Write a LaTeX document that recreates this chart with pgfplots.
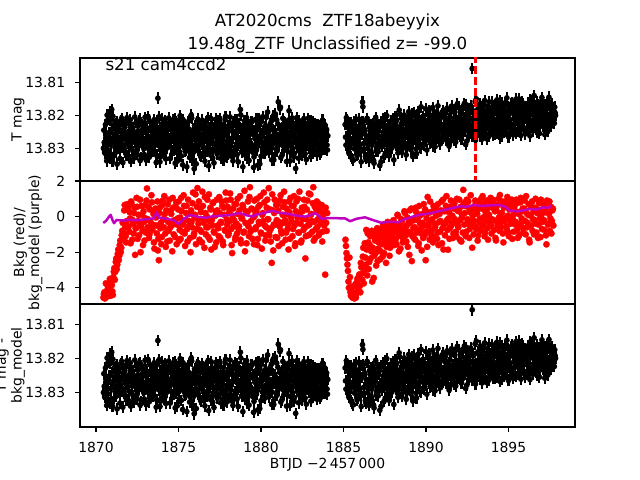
\documentclass[border=0pt]{standalone}
\usepackage{fontspec}
\setmainfont{DejaVu Sans}
\usepackage{pgfplots}
\usepackage{pgfplotstable}
\pgfplotsset{compat=1.18}
\definecolor{mplmag}{rgb}{0.75,0,0.75}

% point with its (constant) error bar, as one plot mark
\pgfdeclareplotmark{errdot}{%
  \pgfpathmoveto{\pgfqpoint{0pt}{-4.2pt}}%
  \pgfpathlineto{\pgfqpoint{0pt}{4.2pt}}%
  \pgfsetlinewidth{1.5pt}%
  \pgfusepathqstroke
  \pgfpathcircle{\pgfpointorigin}{\pgfplotmarksize}%
  \pgfusepathqfill
}

% T mag (black points with error bars), first set
\pgfplotstableread[row sep=\\]{
x y\\
1870.45 13.8300\\ 1870.50 13.8282\\ 1870.55 13.8315\\ 1870.60 13.8262\\ 1870.65 13.8338\\ 1870.70 13.8291\\ 1870.75 13.8210\\ 1870.80 13.8252\\ 1870.85 13.8188\\ 1870.90 13.8322\\
1870.95 13.8182\\ 1871.00 13.8340\\ 1871.05 13.8268\\ 1871.10 13.8228\\ 1871.15 13.8297\\ 1871.20 13.8312\\ 1871.25 13.8251\\ 1871.30 13.8219\\ 1871.35 13.8283\\ 1871.40 13.8240\\
1871.45 13.8331\\ 1871.50 13.8265\\ 1871.55 13.8209\\ 1871.60 13.8288\\ 1871.65 13.8246\\ 1871.70 13.8302\\ 1871.75 13.8236\\ 1871.80 13.8275\\ 1871.85 13.8322\\ 1871.90 13.8214\\
1871.95 13.8259\\ 1872.00 13.8296\\ 1872.05 13.8227\\ 1872.10 13.8340\\ 1872.15 13.8271\\ 1872.20 13.8238\\ 1872.25 13.8310\\ 1872.30 13.8252\\ 1872.35 13.8205\\ 1872.40 13.8284\\
1872.45 13.8263\\ 1872.50 13.8319\\ 1872.55 13.8233\\ 1872.60 13.8291\\ 1872.65 13.8212\\ 1872.70 13.8277\\ 1872.75 13.8328\\ 1872.80 13.8245\\ 1872.85 13.8269\\ 1872.90 13.8301\\
1872.95 13.8222\\ 1873.00 13.8286\\ 1873.05 13.8336\\ 1873.10 13.8249\\ 1873.15 13.8203\\ 1873.20 13.8274\\ 1873.25 13.8315\\ 1873.30 13.8237\\ 1873.35 13.8298\\ 1873.40 13.8260\\
1873.45 13.8229\\ 1873.50 13.8307\\ 1873.55 13.8256\\ 1873.60 13.8280\\ 1873.65 13.8343\\ 1873.70 13.8218\\ 1873.75 13.8148\\ 1873.80 13.8292\\ 1873.85 13.8247\\ 1873.90 13.8326\\
1873.95 13.8270\\ 1874.00 13.8211\\ 1874.05 13.8289\\ 1874.10 13.8239\\ 1874.15 13.8316\\ 1874.20 13.8262\\ 1874.25 13.8225\\ 1874.30 13.8299\\ 1874.35 13.8274\\ 1874.40 13.8208\\
1874.45 13.8285\\ 1874.50 13.8331\\ 1874.55 13.8243\\ 1874.60 13.8268\\ 1874.65 13.8214\\ 1874.70 13.8304\\ 1874.75 13.8257\\ 1874.80 13.8345\\ 1874.85 13.8279\\ 1874.90 13.8226\\
1874.95 13.8293\\ 1875.00 13.8250\\ 1875.05 13.8318\\ 1875.10 13.8201\\ 1875.15 13.8271\\ 1875.20 13.8237\\ 1875.25 13.8350\\ 1875.30 13.8283\\ 1875.35 13.8246\\ 1875.40 13.8309\\
1875.45 13.8264\\ 1875.50 13.8356\\ 1875.55 13.8221\\ 1875.60 13.8290\\ 1875.65 13.8242\\ 1875.70 13.8313\\ 1875.75 13.8273\\ 1875.80 13.8208\\ 1875.85 13.8336\\ 1875.90 13.8260\\
1875.95 13.8362\\ 1876.00 13.8233\\ 1876.05 13.8295\\ 1876.10 13.8254\\ 1876.15 13.8219\\ 1876.20 13.8305\\ 1876.25 13.8270\\ 1876.30 13.8240\\ 1876.35 13.8325\\ 1876.40 13.8281\\
1876.45 13.8215\\ 1876.50 13.8298\\ 1876.55 13.8258\\ 1876.60 13.8339\\ 1876.65 13.8235\\ 1876.70 13.8276\\ 1876.75 13.8310\\ 1876.80 13.8206\\ 1876.85 13.8287\\ 1876.90 13.8249\\
1876.95 13.8321\\ 1877.00 13.8267\\ 1877.05 13.8228\\ 1877.10 13.8302\\ 1877.15 13.8344\\ 1877.20 13.8255\\ 1877.25 13.8212\\ 1877.30 13.8284\\ 1877.35 13.8317\\ 1877.40 13.8243\\
1877.45 13.8272\\ 1877.50 13.8209\\ 1877.55 13.8330\\ 1877.60 13.8261\\ 1877.65 13.8294\\ 1877.70 13.8237\\ 1877.75 13.8315\\ 1877.80 13.8250\\ 1877.85 13.8203\\ 1877.90 13.8288\\
1877.95 13.8327\\ 1878.00 13.8244\\ 1878.05 13.8269\\ 1878.10 13.8222\\ 1878.15 13.8306\\ 1878.20 13.8279\\ 1878.25 13.8235\\ 1878.30 13.8338\\ 1878.35 13.8258\\ 1878.40 13.8213\\
1878.45 13.8297\\ 1878.50 13.8248\\ 1878.55 13.8319\\ 1878.60 13.8267\\ 1878.65 13.8226\\ 1878.70 13.8284\\ 1878.75 13.8182\\ 1878.80 13.8240\\ 1878.85 13.8308\\ 1878.90 13.8356\\
1878.95 13.8263\\ 1879.00 13.8217\\ 1879.05 13.8293\\ 1879.10 13.8252\\ 1879.15 13.8331\\ 1879.20 13.8275\\ 1879.25 13.8230\\ 1879.30 13.8301\\ 1879.35 13.8246\\ 1879.40 13.8286\\
1879.45 13.8220\\ 1879.50 13.8312\\ 1879.55 13.8358\\ 1879.60 13.8257\\ 1879.65 13.8293\\ 1879.70 13.8236\\ 1879.75 13.8273\\ 1879.80 13.8351\\ 1879.85 13.8211\\ 1879.90 13.8282\\
1879.95 13.8245\\ 1880.00 13.8324\\ 1880.05 13.8266\\ 1880.10 13.8204\\ 1880.15 13.8299\\ 1880.20 13.8253\\ 1880.25 13.8316\\ 1880.30 13.8239\\ 1880.35 13.8277\\ 1880.40 13.8190\\
1880.45 13.8260\\ 1880.50 13.8309\\ 1880.55 13.8227\\ 1880.60 13.8287\\ 1880.65 13.8335\\ 1880.70 13.8244\\ 1880.75 13.8201\\ 1880.80 13.8274\\ 1880.85 13.8318\\ 1880.90 13.8256\\
1880.95 13.8214\\ 1881.00 13.8296\\ 1881.05 13.8159\\ 1881.10 13.8268\\ 1881.15 13.8180\\ 1881.20 13.8328\\ 1881.25 13.8238\\ 1881.30 13.8282\\ 1881.35 13.8250\\ 1881.40 13.8305\\
1881.45 13.8224\\ 1881.50 13.8271\\ 1881.55 13.8340\\ 1881.60 13.8235\\ 1881.65 13.8290\\ 1881.70 13.8186\\ 1881.75 13.8259\\ 1881.80 13.8313\\ 1881.85 13.8247\\ 1881.90 13.8208\\
1881.95 13.8283\\ 1882.00 13.8326\\ 1882.05 13.8264\\ 1882.10 13.8361\\ 1882.15 13.8229\\ 1882.20 13.8297\\ 1882.25 13.8251\\ 1882.30 13.8216\\ 1882.35 13.8307\\ 1882.40 13.8270\\
1882.45 13.8241\\ 1882.50 13.8322\\ 1882.55 13.8265\\ 1882.60 13.8210\\ 1882.65 13.8288\\ 1882.70 13.8253\\ 1882.75 13.8334\\ 1882.80 13.8276\\ 1882.85 13.8231\\ 1882.90 13.8300\\
1882.95 13.8262\\ 1883.00 13.8218\\ 1883.05 13.8293\\ 1883.10 13.8248\\ 1883.15 13.8315\\ 1883.20 13.8272\\ 1883.25 13.8227\\ 1883.30 13.8286\\ 1883.35 13.8255\\ 1883.40 13.8320\\
1883.45 13.8266\\ 1883.50 13.8232\\ 1883.55 13.8299\\ 1883.60 13.8258\\ 1883.65 13.8311\\ 1883.70 13.8244\\ 1883.75 13.8281\\ 1883.80 13.8225\\ 1883.85 13.8303\\ 1883.90 13.8270\\ 1883.95 13.8249\\ 1884.00 13.8290\\ 1884.05 13.8262\\
1885.10 13.8228\\ 1885.15 13.8290\\ 1885.20 13.8215\\ 1885.25 13.8262\\ 1885.30 13.8305\\ 1885.35 13.8240\\ 1885.40 13.8281\\ 1885.45 13.8325\\ 1885.50 13.8233\\ 1885.55 13.8270\\
1885.60 13.8336\\ 1885.65 13.8251\\ 1885.70 13.8298\\ 1885.75 13.8214\\ 1885.80 13.8276\\ 1885.85 13.8318\\ 1885.90 13.8244\\ 1885.95 13.8287\\ 1886.00 13.8229\\ 1886.05 13.8309\\
1886.10 13.8256\\ 1886.15 13.8160\\ 1886.20 13.8219\\ 1886.25 13.8302\\ 1886.30 13.8247\\ 1886.35 13.8330\\ 1886.40 13.8273\\ 1886.45 13.8212\\ 1886.50 13.8291\\ 1886.55 13.8338\\
1886.60 13.8260\\ 1886.65 13.8229\\ 1886.70 13.8316\\ 1886.75 13.8282\\ 1886.80 13.8241\\ 1886.85 13.8345\\ 1886.90 13.8268\\ 1886.95 13.8206\\ 1887.00 13.8299\\ 1887.05 13.8255\\
1887.10 13.8310\\ 1887.15 13.8238\\ 1887.20 13.8352\\ 1887.25 13.8275\\ 1887.30 13.8221\\ 1887.35 13.8294\\ 1887.40 13.8252\\ 1887.45 13.8326\\ 1887.50 13.8207\\ 1887.55 13.8270\\
1887.60 13.8243\\ 1887.65 13.8311\\ 1887.70 13.8229\\ 1887.75 13.8286\\ 1887.80 13.8250\\ 1887.85 13.8303\\ 1887.90 13.8216\\ 1887.95 13.8279\\ 1888.00 13.8237\\ 1888.05 13.8335\\
1888.10 13.8262\\ 1888.15 13.8204\\ 1888.20 13.8291\\ 1888.25 13.8235\\ 1888.30 13.8314\\ 1888.35 13.8250\\ 1888.40 13.8196\\ 1888.45 13.8278\\ 1888.50 13.8226\\ 1888.55 13.8303\\
1888.60 13.8242\\ 1888.65 13.8288\\ 1888.70 13.8212\\ 1888.75 13.8267\\ 1888.80 13.8320\\ 1888.85 13.8231\\ 1888.90 13.8259\\ 1888.95 13.8189\\ 1889.00 13.8284\\ 1889.05 13.8245\\
1889.10 13.8218\\ 1889.15 13.8270\\ 1889.20 13.8325\\ 1889.25 13.8240\\ 1889.30 13.8191\\ 1889.35 13.8258\\ 1889.40 13.8302\\ 1889.45 13.8227\\ 1889.50 13.8280\\ 1889.55 13.8205\\
1889.60 13.8249\\ 1889.65 13.8296\\ 1889.70 13.8174\\ 1889.75 13.8236\\ 1889.80 13.8265\\ 1889.85 13.8212\\ 1889.90 13.8287\\ 1889.95 13.8229\\ 1890.00 13.8256\\ 1890.05 13.8305\\
1890.10 13.8198\\ 1890.15 13.8262\\ 1890.20 13.8230\\ 1890.25 13.8283\\ 1890.30 13.8209\\ 1890.35 13.8247\\ 1890.40 13.8176\\ 1890.45 13.8270\\ 1890.50 13.8222\\ 1890.55 13.8295\\
1890.60 13.8238\\ 1890.65 13.8189\\ 1890.70 13.8255\\ 1890.75 13.8214\\ 1890.80 13.8279\\ 1890.85 13.8232\\ 1890.90 13.8201\\ 1890.95 13.8266\\ 1891.00 13.8243\\ 1891.05 13.8185\\
1891.10 13.8250\\ 1891.15 13.8211\\ 1891.20 13.8274\\ 1891.25 13.8228\\ 1891.30 13.8182\\ 1891.35 13.8259\\ 1891.40 13.8293\\ 1891.45 13.8204\\ 1891.50 13.8237\\ 1891.55 13.8172\\
1891.60 13.8266\\ 1891.65 13.8219\\ 1891.70 13.8247\\ 1891.75 13.8190\\ 1891.80 13.8281\\ 1891.85 13.8226\\ 1891.90 13.8165\\ 1891.95 13.8240\\ 1892.00 13.8208\\ 1892.05 13.8262\\
1892.10 13.8196\\ 1892.15 13.8272\\ 1892.20 13.8224\\ 1892.25 13.8179\\ 1892.30 13.8245\\ 1892.35 13.8207\\ 1892.40 13.8288\\ 1892.45 13.8168\\ 1892.50 13.8232\\ 1892.55 13.8199\\
1892.60 13.8260\\ 1892.65 13.8215\\ 1892.70 13.8170\\ 1892.75 13.8241\\ 1892.80 13.8058\\ 1892.85 13.8186\\ 1892.90 13.8253\\ 1892.95 13.8220\\ 1893.00 13.8275\\ 1893.05 13.8150\\
1893.10 13.8227\\ 1893.15 13.8181\\ 1893.20 13.8249\\ 1893.25 13.8206\\ 1893.30 13.8164\\ 1893.35 13.8238\\ 1893.40 13.8272\\ 1893.45 13.8192\\ 1893.50 13.8219\\ 1893.55 13.8155\\
1893.60 13.8255\\ 1893.65 13.8203\\ 1893.70 13.8230\\ 1893.75 13.8174\\ 1893.80 13.8264\\ 1893.85 13.8212\\ 1893.90 13.8187\\ 1893.95 13.8243\\ 1894.00 13.8160\\ 1894.05 13.8221\\
1894.10 13.8196\\ 1894.15 13.8258\\ 1894.20 13.8175\\ 1894.25 13.8229\\ 1894.30 13.8153\\ 1894.35 13.8209\\ 1894.40 13.8244\\ 1894.45 13.8183\\ 1894.50 13.8268\\ 1894.55 13.8201\\
1894.60 13.8162\\ 1894.65 13.8235\\ 1894.70 13.8190\\ 1894.75 13.8251\\ 1894.80 13.8171\\ 1894.85 13.8217\\ 1894.90 13.8147\\ 1894.95 13.8226\\ 1895.00 13.8265\\ 1895.05 13.8188\\
1895.10 13.8213\\ 1895.15 13.8166\\ 1895.20 13.8240\\ 1895.25 13.8192\\ 1895.30 13.8259\\ 1895.35 13.8178\\ 1895.40 13.8222\\ 1895.45 13.8151\\ 1895.50 13.8204\\ 1895.55 13.8247\\
1895.60 13.8170\\ 1895.65 13.8232\\ 1895.70 13.8195\\ 1895.75 13.8261\\ 1895.80 13.8158\\ 1895.85 13.8215\\ 1895.90 13.8186\\ 1895.95 13.8238\\ 1896.00 13.8173\\ 1896.05 13.8209\\
1896.10 13.8189\\ 1896.15 13.8244\\ 1896.20 13.8163\\ 1896.25 13.8218\\ 1896.30 13.8262\\ 1896.35 13.8180\\ 1896.40 13.8227\\ 1896.45 13.8155\\ 1896.50 13.8200\\ 1896.55 13.8140\\
1896.60 13.8235\\ 1896.65 13.8176\\ 1896.70 13.8213\\ 1896.75 13.8250\\ 1896.80 13.8168\\ 1896.85 13.8197\\ 1896.90 13.8231\\ 1896.95 13.8159\\ 1897.00 13.8208\\ 1897.05 13.8184\\
1897.10 13.8221\\ 1897.15 13.8170\\ 1897.20 13.8258\\ 1897.25 13.8193\\ 1897.30 13.8236\\ 1897.35 13.8162\\ 1897.40 13.8210\\ 1897.45 13.8145\\ 1897.50 13.8228\\ 1897.55 13.8181\\
1897.60 13.8205\\ 1897.65 13.8166\\ 1897.70 13.8215\\ 1897.75 13.8190\\ 1897.80 13.8175\\ 1897.85 13.8200\\
}\tblack

% T mag, interleaved second set
\pgfplotstableread[row sep=\\]{
x y\\
1870.475 13.8245\\ 1870.525 13.8312\\ 1870.575 13.8228\\ 1870.625 13.8276\\ 1870.675 13.8199\\ 1870.725 13.8305\\ 1870.775 13.8262\\ 1870.825 13.8330\\ 1870.875 13.8215\\ 1870.925 13.8287\\
1870.975 13.8241\\ 1871.025 13.8203\\ 1871.075 13.8318\\ 1871.125 13.8256\\ 1871.175 13.8292\\ 1871.225 13.8226\\ 1871.275 13.8348\\ 1871.325 13.8271\\ 1871.375 13.8234\\ 1871.425 13.8300\\
1871.475 13.8278\\ 1871.525 13.8217\\ 1871.575 13.8296\\ 1871.625 13.8343\\ 1871.675 13.8259\\ 1871.725 13.8230\\ 1871.775 13.8311\\ 1871.825 13.8266\\ 1871.875 13.8207\\ 1871.925 13.8285\\
1871.975 13.8249\\ 1872.025 13.8325\\ 1872.075 13.8213\\ 1872.125 13.8270\\ 1872.175 13.8302\\ 1872.225 13.8237\\ 1872.275 13.8258\\ 1872.325 13.8329\\ 1872.375 13.8281\\ 1872.425 13.8222\\
1872.475 13.8307\\ 1872.525 13.8248\\ 1872.575 13.8284\\ 1872.625 13.8216\\ 1872.675 13.8337\\ 1872.725 13.8261\\ 1872.775 13.8229\\ 1872.825 13.8293\\ 1872.875 13.8252\\ 1872.925 13.8319\\
1872.975 13.8206\\ 1873.025 13.8273\\ 1873.075 13.8240\\ 1873.125 13.8299\\ 1873.175 13.8265\\ 1873.225 13.8327\\ 1873.275 13.8219\\ 1873.325 13.8286\\ 1873.375 13.8243\\ 1873.425 13.8310\\
1873.475 13.8268\\ 1873.525 13.8213\\ 1873.575 13.8290\\ 1873.625 13.8236\\ 1873.675 13.8321\\ 1873.725 13.8255\\ 1873.775 13.8279\\ 1873.825 13.8204\\ 1873.875 13.8341\\ 1873.925 13.8263\\
1873.975 13.8227\\ 1874.025 13.8304\\ 1874.075 13.8248\\ 1874.125 13.8283\\ 1874.175 13.8217\\ 1874.225 13.8332\\ 1874.275 13.8257\\ 1874.325 13.8294\\ 1874.375 13.8238\\ 1874.425 13.8272\\
1874.475 13.8223\\ 1874.525 13.8296\\ 1874.575 13.8259\\ 1874.625 13.8315\\ 1874.675 13.8235\\ 1874.725 13.8278\\ 1874.775 13.8209\\ 1874.825 13.8301\\ 1874.875 13.8252\\ 1874.925 13.8339\\
1874.975 13.8266\\ 1875.025 13.8220\\ 1875.075 13.8288\\ 1875.125 13.8244\\ 1875.175 13.8323\\ 1875.225 13.8260\\ 1875.275 13.8213\\ 1875.325 13.8297\\ 1875.375 13.8274\\ 1875.425 13.8232\\
1875.475 13.8306\\ 1875.525 13.8242\\ 1875.575 13.8285\\ 1875.625 13.8217\\ 1875.675 13.8328\\ 1875.725 13.8263\\ 1875.775 13.8199\\ 1875.825 13.8291\\ 1875.875 13.8249\\ 1875.925 13.8311\\
1875.975 13.8231\\ 1876.025 13.8276\\ 1876.075 13.8347\\ 1876.125 13.8254\\ 1876.175 13.8212\\ 1876.225 13.8289\\ 1876.275 13.8236\\ 1876.325 13.8320\\ 1876.375 13.8268\\ 1876.425 13.8226\\
1876.475 13.8292\\ 1876.525 13.8245\\ 1876.575 13.8318\\ 1876.625 13.8270\\ 1876.675 13.8221\\ 1876.725 13.8301\\ 1876.775 13.8257\\ 1876.825 13.8353\\ 1876.875 13.8239\\ 1876.925 13.8284\\
1876.975 13.8210\\ 1877.025 13.8275\\ 1877.075 13.8329\\ 1877.125 13.8250\\ 1877.175 13.8296\\ 1877.225 13.8231\\ 1877.275 13.8265\\ 1877.325 13.8312\\ 1877.375 13.8218\\ 1877.425 13.8280\\
1877.475 13.8251\\ 1877.525 13.8303\\ 1877.575 13.8226\\ 1877.625 13.8287\\ 1877.675 13.8242\\ 1877.725 13.8336\\ 1877.775 13.8263\\ 1877.825 13.8214\\ 1877.875 13.8298\\ 1877.925 13.8255\\
1877.975 13.8318\\ 1878.025 13.8232\\ 1878.075 13.8279\\ 1878.125 13.8205\\ 1878.175 13.8292\\ 1878.225 13.8247\\ 1878.275 13.8326\\ 1878.325 13.8268\\ 1878.375 13.8221\\ 1878.425 13.8306\\
1878.475 13.8262\\ 1878.525 13.8215\\ 1878.575 13.8289\\ 1878.625 13.8341\\ 1878.675 13.8238\\ 1878.725 13.8276\\ 1878.775 13.8199\\ 1878.825 13.8311\\ 1878.875 13.8254\\ 1878.925 13.8283\\
1878.975 13.8229\\ 1879.025 13.8320\\ 1879.075 13.8266\\ 1879.125 13.8207\\ 1879.175 13.8295\\ 1879.225 13.8243\\ 1879.275 13.8337\\ 1879.325 13.8258\\ 1879.375 13.8287\\ 1879.425 13.8219\\
1879.475 13.8294\\ 1879.525 13.8248\\ 1879.575 13.8326\\ 1879.625 13.8270\\ 1879.675 13.8212\\ 1879.725 13.8305\\ 1879.775 13.8240\\ 1879.825 13.8286\\ 1879.875 13.8228\\ 1879.925 13.8347\\
1879.975 13.8261\\ 1880.025 13.8219\\ 1880.075 13.8298\\ 1880.125 13.8253\\ 1880.175 13.8315\\ 1880.225 13.8234\\ 1880.275 13.8279\\ 1880.325 13.8206\\ 1880.375 13.8290\\ 1880.425 13.8245\\
1880.475 13.8313\\ 1880.525 13.8236\\ 1880.575 13.8281\\ 1880.625 13.8218\\ 1880.675 13.8299\\ 1880.725 13.8262\\ 1880.775 13.8335\\ 1880.825 13.8247\\ 1880.875 13.8196\\ 1880.925 13.8272\\
1880.975 13.8308\\ 1881.025 13.8226\\ 1881.075 13.8289\\ 1881.125 13.8241\\ 1881.175 13.8175\\ 1881.225 13.8264\\ 1881.275 13.8321\\ 1881.325 13.8209\\ 1881.375 13.8293\\ 1881.425 13.8257\\
1881.475 13.8285\\ 1881.525 13.8232\\ 1881.575 13.8306\\ 1881.625 13.8261\\ 1881.675 13.8214\\ 1881.725 13.8279\\ 1881.775 13.8338\\ 1881.825 13.8244\\ 1881.875 13.8297\\ 1881.925 13.8223\\
1881.975 13.8268\\ 1882.025 13.8315\\ 1882.075 13.8239\\ 1882.125 13.8284\\ 1882.175 13.8207\\ 1882.225 13.8273\\ 1882.275 13.8330\\ 1882.325 13.8252\\ 1882.375 13.8291\\ 1882.425 13.8236\\
1882.475 13.8277\\ 1882.525 13.8219\\ 1882.575 13.8303\\ 1882.625 13.8248\\ 1882.675 13.8316\\ 1882.725 13.8235\\ 1882.775 13.8289\\ 1882.825 13.8260\\ 1882.875 13.8209\\ 1882.925 13.8296\\
1882.975 13.8242\\ 1883.025 13.8325\\ 1883.075 13.8267\\ 1883.125 13.8221\\ 1883.175 13.8284\\ 1883.225 13.8253\\ 1883.275 13.8309\\ 1883.325 13.8238\\ 1883.375 13.8274\\ 1883.425 13.8230\\
1883.475 13.8295\\ 1883.525 13.8251\\ 1883.575 13.8318\\ 1883.625 13.8237\\ 1883.675 13.8280\\ 1883.725 13.8215\\ 1883.775 13.8302\\ 1883.825 13.8260\\ 1883.875 13.8229\\ 1883.925 13.8286\\ 1883.975 13.8243\\ 1884.025 13.8305\\
1885.125 13.8266\\ 1885.175 13.8207\\ 1885.225 13.8294\\ 1885.275 13.8238\\ 1885.325 13.8314\\ 1885.375 13.8252\\ 1885.425 13.8223\\ 1885.475 13.8287\\ 1885.525 13.8331\\ 1885.575 13.8245\\
1885.625 13.8219\\ 1885.675 13.8302\\ 1885.725 13.8264\\ 1885.775 13.8236\\ 1885.825 13.8322\\ 1885.875 13.8275\\ 1885.925 13.8211\\ 1885.975 13.8293\\ 1886.025 13.8257\\ 1886.075 13.8341\\
1886.125 13.8221\\ 1886.175 13.8174\\ 1886.225 13.8285\\ 1886.275 13.8243\\ 1886.325 13.8324\\ 1886.375 13.8262\\ 1886.425 13.8209\\ 1886.475 13.8301\\ 1886.525 13.8271\\ 1886.575 13.8236\\
1886.625 13.8319\\ 1886.675 13.8252\\ 1886.725 13.8290\\ 1886.775 13.8225\\ 1886.825 13.8337\\ 1886.875 13.8263\\ 1886.925 13.8242\\ 1886.975 13.8308\\ 1887.025 13.8217\\ 1887.075 13.8283\\
1887.125 13.8247\\ 1887.175 13.8296\\ 1887.225 13.8228\\ 1887.275 13.8341\\ 1887.325 13.8265\\ 1887.375 13.8212\\ 1887.425 13.8284\\ 1887.475 13.8239\\ 1887.525 13.8317\\ 1887.575 13.8258\\
1887.625 13.8201\\ 1887.675 13.8292\\ 1887.725 13.8246\\ 1887.775 13.8323\\ 1887.825 13.8268\\ 1887.875 13.8222\\ 1887.925 13.8299\\ 1887.975 13.8255\\ 1888.025 13.8210\\ 1888.075 13.8281\\
1888.125 13.8232\\ 1888.175 13.8279\\ 1888.225 13.8215\\ 1888.275 13.8301\\ 1888.325 13.8256\\ 1888.375 13.8184\\ 1888.425 13.8269\\ 1888.475 13.8240\\ 1888.525 13.8312\\ 1888.575 13.8221\\
1888.625 13.8263\\ 1888.675 13.8199\\ 1888.725 13.8287\\ 1888.775 13.8248\\ 1888.825 13.8226\\ 1888.875 13.8295\\ 1888.925 13.8207\\ 1888.975 13.8272\\ 1889.025 13.8238\\ 1889.075 13.8304\\
1889.125 13.8251\\ 1889.175 13.8196\\ 1889.225 13.8283\\ 1889.275 13.8229\\ 1889.325 13.8268\\ 1889.375 13.8214\\ 1889.425 13.8316\\ 1889.475 13.8244\\ 1889.525 13.8188\\ 1889.575 13.8274\\
1889.625 13.8232\\ 1889.675 13.8298\\ 1889.725 13.8219\\ 1889.775 13.8258\\ 1889.825 13.8203\\ 1889.875 13.8289\\ 1889.925 13.8241\\ 1889.975 13.8180\\ 1890.025 13.8266\\ 1890.075 13.8225\\
1890.125 13.8247\\ 1890.175 13.8186\\ 1890.225 13.8271\\ 1890.275 13.8213\\ 1890.325 13.8256\\ 1890.375 13.8234\\ 1890.425 13.8292\\ 1890.475 13.8197\\ 1890.525 13.8262\\ 1890.575 13.8218\\
1890.625 13.8279\\ 1890.675 13.8240\\ 1890.725 13.8171\\ 1890.775 13.8252\\ 1890.825 13.8208\\ 1890.875 13.8286\\ 1890.925 13.8227\\ 1890.975 13.8194\\ 1891.025 13.8269\\ 1891.075 13.8236\\
1891.125 13.8203\\ 1891.175 13.8263\\ 1891.225 13.8229\\ 1891.275 13.8178\\ 1891.325 13.8248\\ 1891.375 13.8212\\ 1891.425 13.8285\\ 1891.475 13.8236\\ 1891.525 13.8190\\ 1891.575 13.8257\\
1891.625 13.8221\\ 1891.675 13.8276\\ 1891.725 13.8183\\ 1891.775 13.8244\\ 1891.825 13.8206\\ 1891.875 13.8268\\ 1891.925 13.8230\\ 1891.975 13.8175\\ 1892.025 13.8252\\ 1892.075 13.8214\\
1892.125 13.8238\\ 1892.175 13.8183\\ 1892.225 13.8259\\ 1892.275 13.8212\\ 1892.325 13.8164\\ 1892.375 13.8247\\ 1892.425 13.8201\\ 1892.475 13.8278\\ 1892.525 13.8226\\ 1892.575 13.8189\\
1892.625 13.8251\\ 1892.675 13.8208\\ 1892.725 13.8173\\ 1892.775 13.8264\\ 1892.825 13.8229\\ 1892.875 13.8193\\ 1892.925 13.8240\\ 1892.975 13.8158\\ 1893.025 13.8216\\ 1893.075 13.8262\\
1893.125 13.8185\\ 1893.175 13.8241\\ 1893.225 13.8210\\ 1893.275 13.8262\\ 1893.325 13.8176\\ 1893.375 13.8228\\ 1893.425 13.8195\\ 1893.475 13.8253\\ 1893.525 13.8168\\ 1893.575 13.8233\\
1893.625 13.8207\\ 1893.675 13.8271\\ 1893.725 13.8184\\ 1893.775 13.8222\\ 1893.825 13.8159\\ 1893.875 13.8246\\ 1893.925 13.8198\\ 1893.975 13.8237\\ 1894.025 13.8178\\ 1894.075 13.8259\\
1894.125 13.8214\\ 1894.175 13.8167\\ 1894.225 13.8240\\ 1894.275 13.8191\\ 1894.325 13.8255\\ 1894.375 13.8177\\ 1894.425 13.8222\\ 1894.475 13.8156\\ 1894.525 13.8233\\ 1894.575 13.8204\\
1894.625 13.8262\\ 1894.675 13.8181\\ 1894.725 13.8219\\ 1894.775 13.8164\\ 1894.825 13.8247\\ 1894.875 13.8198\\ 1894.925 13.8236\\ 1894.975 13.8173\\ 1895.025 13.8211\\ 1895.075 13.8253\\
1895.125 13.8182\\ 1895.175 13.8229\\ 1895.225 13.8161\\ 1895.275 13.8244\\ 1895.325 13.8197\\ 1895.375 13.8212\\ 1895.425 13.8168\\ 1895.475 13.8253\\ 1895.525 13.8186\\ 1895.575 13.8225\\
1895.625 13.8150\\ 1895.675 13.8207\\ 1895.725 13.8246\\ 1895.775 13.8179\\ 1895.825 13.8218\\ 1895.875 13.8164\\ 1895.925 13.8239\\ 1895.975 13.8193\\ 1896.025 13.8256\\ 1896.075 13.8175\\
1896.125 13.8219\\ 1896.175 13.8172\\ 1896.225 13.8236\\ 1896.275 13.8194\\ 1896.325 13.8152\\ 1896.375 13.8229\\ 1896.425 13.8183\\ 1896.475 13.8247\\ 1896.525 13.8166\\ 1896.575 13.8211\\
1896.625 13.8188\\ 1896.675 13.8241\\ 1896.725 13.8160\\ 1896.775 13.8222\\ 1896.825 13.8198\\ 1896.875 13.8255\\ 1896.925 13.8174\\ 1896.975 13.8216\\ 1897.025 13.8146\\ 1897.075 13.8233\\
1897.125 13.8191\\ 1897.175 13.8239\\ 1897.225 13.8167\\ 1897.275 13.8214\\ 1897.325 13.8180\\ 1897.375 13.8249\\ 1897.425 13.8158\\ 1897.475 13.8226\\ 1897.525 13.8196\\ 1897.575 13.8233\\
1897.625 13.8171\\ 1897.675 13.8209\\ 1897.725 13.8185\\ 1897.775 13.8224\\ 1897.825 13.8192\\
}\tblackb

% Bkg (red dots), first set
\pgfplotstableread[row sep=\\]{
x y\\
1870.45 -4.55\\ 1870.51 -4.25\\ 1870.57 -4.50\\ 1870.63 -4.40\\ 1870.69 -3.85\\ 1870.75 -4.30\\ 1870.81 -3.95\\ 1870.87 -4.45\\ 1870.93 -3.60\\ 1870.99 -4.20\\
1871.05 -3.40\\ 1871.11 -2.90\\ 1871.17 -3.10\\ 1871.23 -2.35\\ 1871.29 -2.70\\ 1871.35 -1.85\\ 1871.41 -2.20\\ 1871.47 -1.35\\ 1871.53 -1.75\\ 1871.59 -0.80\\
1871.65 -1.20\\ 1871.71 0.35\\ 1871.77 -0.60\\ 1871.83 -1.45\\ 1871.89 0.70\\
1871.95 0.45\\ 1872.01 -0.85\\ 1872.07 -0.10\\ 1872.13 0.85\\ 1872.19 -1.30\\ 1872.25 -0.40\\ 1872.31 0.20\\ 1872.37 -2.15\\ 1872.43 -0.65\\ 1872.49 0.55\\
1872.55 -0.25\\ 1872.61 -1.05\\ 1872.67 0.95\\ 1872.73 -0.55\\ 1872.79 0.10\\ 1872.85 -1.60\\ 1872.91 -0.30\\ 1872.97 0.65\\ 1873.03 -0.90\\ 1873.09 1.58\\
1873.15 -0.15\\ 1873.21 -1.20\\ 1873.27 0.40\\ 1873.33 -0.70\\ 1873.39 0.80\\ 1873.45 -0.45\\ 1873.51 -1.45\\ 1873.57 0.25\\ 1873.63 -0.05\\ 1873.69 -0.95\\
1873.75 -1.90\\ 1873.81 -2.45\\ 1873.87 0.50\\ 1873.93 -0.35\\ 1873.99 -1.15\\ 1874.05 0.90\\ 1874.11 -0.60\\ 1874.17 0.15\\ 1874.23 -1.70\\ 1874.29 -0.20\\
1874.35 0.70\\ 1874.41 -0.80\\ 1874.47 -1.35\\ 1874.53 0.35\\ 1874.59 -0.50\\ 1874.65 1.05\\ 1874.71 -1.00\\ 1874.77 -0.25\\ 1874.83 0.55\\ 1874.89 -1.55\\
1874.95 -0.10\\ 1875.01 0.85\\ 1875.07 -0.75\\ 1875.13 -1.25\\ 1875.19 0.30\\ 1875.25 -0.45\\ 1875.31 1.20\\ 1875.37 -0.95\\ 1875.43 -0.20\\ 1875.49 0.60\\
1875.55 -1.40\\ 1875.61 -0.55\\ 1875.67 0.15\\ 1875.73 -2.00\\ 1875.79 -0.30\\ 1875.85 0.75\\ 1875.91 -1.10\\ 1875.97 -0.05\\ 1876.03 1.25\\ 1876.09 -0.70\\
1876.15 1.60\\ 1876.21 -0.40\\ 1876.27 -1.30\\ 1876.33 0.45\\ 1876.39 -0.85\\ 1876.45 1.40\\ 1876.51 -0.15\\ 1876.57 -1.75\\ 1876.63 0.20\\ 1876.69 -0.60\\
1876.75 0.95\\ 1876.81 -1.15\\ 1876.87 -0.25\\ 1876.93 0.50\\ 1876.99 -1.85\\ 1877.05 -0.50\\ 1877.11 0.80\\ 1877.17 -0.90\\ 1877.23 0.05\\ 1877.29 -1.45\\
1877.35 0.35\\ 1877.41 -0.65\\ 1877.47 1.10\\ 1877.53 -1.20\\ 1877.59 -0.35\\ 1877.65 0.60\\ 1877.71 -1.60\\ 1877.77 0.10\\ 1877.83 -0.80\\ 1877.89 0.90\\
1877.95 -0.45\\ 1878.01 -1.05\\ 1878.07 0.25\\ 1878.13 1.30\\ 1878.19 -0.70\\ 1878.25 -2.05\\ 1878.31 0.45\\ 1878.37 -0.20\\ 1878.43 -1.30\\ 1878.49 0.70\\
1878.55 -0.95\\ 1878.61 0.15\\ 1878.67 -0.55\\ 1878.73 1.15\\ 1878.79 -1.50\\ 1878.85 -0.10\\ 1878.91 0.55\\ 1878.97 -0.85\\ 1879.03 -1.95\\ 1879.09 0.30\\
1879.15 -0.40\\ 1879.21 0.85\\ 1879.27 -1.10\\ 1879.33 1.65\\ 1879.39 -0.25\\ 1879.45 -0.75\\ 1879.51 0.40\\ 1879.57 -1.55\\ 1879.63 0.05\\ 1879.69 -0.60\\
1879.75 1.00\\ 1879.81 -1.25\\ 1879.87 -0.30\\ 1879.93 0.65\\ 1879.99 -0.90\\ 1880.05 -1.80\\ 1880.11 0.20\\ 1880.17 1.35\\ 1880.23 -0.50\\ 1880.29 -1.05\\
1880.35 0.50\\ 1880.41 -0.15\\ 1880.47 1.60\\ 1880.53 -0.80\\ 1880.59 -1.40\\ 1880.65 -2.60\\ 1880.71 0.35\\ 1880.77 -0.45\\ 1880.83 0.95\\ 1880.89 -1.15\\
1880.95 -0.20\\ 1881.01 0.70\\ 1881.07 -1.65\\ 1881.13 -0.55\\ 1881.19 1.20\\ 1881.25 -0.95\\ 1881.31 0.10\\ 1881.37 -0.35\\ 1881.43 0.80\\ 1881.49 -1.30\\
1881.55 0.45\\ 1881.61 -0.70\\ 1881.67 -1.85\\ 1881.73 0.25\\ 1881.79 1.05\\ 1881.85 -0.25\\ 1881.91 -1.10\\ 1881.97 0.60\\ 1882.03 -0.50\\ 1882.09 -1.50\\
1882.15 0.85\\ 1882.21 -0.05\\ 1882.27 -0.90\\ 1882.33 1.40\\ 1882.39 -0.40\\ 1882.45 -1.35\\ 1882.51 0.30\\ 1882.57 -0.75\\ 1882.63 0.55\\ 1882.69 -2.35\\
1882.75 -0.15\\ 1882.81 0.90\\ 1882.87 -1.05\\ 1882.93 -0.45\\ 1882.99 1.25\\ 1883.05 0.15\\ 1883.11 -0.85\\ 1883.17 1.65\\ 1883.23 -0.30\\ 1883.29 -1.20\\
1883.35 0.40\\ 1883.41 -0.60\\ 1883.47 0.75\\ 1883.53 -0.95\\ 1883.59 -0.20\\ 1883.65 0.55\\ 1883.71 -1.40\\ 1883.77 0.10\\ 1883.83 -0.50\\ 1883.89 -3.26\\
1883.95 -0.35\\ 1884.01 0.20\\
1885.12 -1.30\\ 1885.18 -2.05\\ 1885.24 -2.70\\ 1885.30 -3.65\\ 1885.36 -2.30\\ 1885.42 -4.25\\ 1885.48 -3.95\\ 1885.54 -4.55\\ 1885.60 -4.40\\ 1885.66 -4.60\\
1885.72 -3.80\\ 1885.78 -4.35\\ 1885.84 -3.50\\ 1885.90 -4.15\\ 1885.96 -3.25\\ 1886.02 -4.25\\ 1886.08 -2.85\\ 1886.14 -3.55\\ 1886.20 -1.75\\ 1886.26 -3.00\\
1886.32 -2.30\\ 1886.38 -0.75\\ 1886.44 -3.30\\ 1886.50 -1.45\\ 1886.56 -2.55\\ 1886.62 -1.10\\ 1886.68 -1.95\\ 1886.74 -3.65\\ 1886.80 -0.90\\ 1886.86 -2.20\\
1886.92 -1.35\\ 1886.98 -2.75\\ 1887.04 -0.65\\ 1887.10 -1.80\\ 1887.16 -1.20\\ 1887.22 -2.40\\ 1887.28 -0.85\\ 1887.34 -1.55\\ 1887.40 -0.45\\ 1887.46 -2.05\\
1887.52 -1.00\\ 1887.58 -2.60\\ 1887.64 -0.55\\ 1887.70 -1.40\\ 1887.76 -0.90\\ 1887.82 -1.75\\ 1887.88 -0.35\\ 1887.94 -1.15\\ 1888.00 -0.70\\ 1888.06 -1.60\\
1888.12 -0.40\\ 1888.18 -1.25\\ 1888.24 -0.85\\ 1888.30 0.05\\ 1888.36 -1.95\\ 1888.42 -0.60\\ 1888.48 -1.10\\ 1888.54 -0.25\\ 1888.60 -1.45\\ 1888.66 -0.75\\
1888.72 0.20\\ 1888.78 -1.05\\ 1888.84 -0.50\\ 1888.90 -1.70\\ 1888.96 -0.30\\ 1889.02 0.35\\ 1889.08 -0.95\\ 1889.14 -2.50\\ 1889.20 -0.15\\ 1889.26 -1.20\\
1889.32 -0.60\\ 1889.38 0.50\\ 1889.44 -0.90\\ 1889.50 -0.20\\ 1889.56 -1.50\\ 1889.62 0.05\\ 1889.68 -0.70\\ 1889.74 -1.90\\ 1889.80 -0.35\\ 1889.86 0.70\\
1889.92 -1.05\\ 1889.98 -2.45\\ 1890.04 -0.10\\ 1890.10 1.10\\ 1890.16 -0.55\\ 1890.22 -1.30\\ 1890.28 0.25\\ 1890.34 -0.80\\ 1890.40 -0.30\\ 1890.46 0.60\\
1890.52 -1.15\\ 1890.58 -0.45\\ 1890.64 0.40\\ 1890.70 -0.90\\ 1890.76 -1.60\\ 1890.82 0.15\\ 1890.88 -0.25\\ 1890.94 0.85\\ 1891.00 -0.65\\ 1891.06 -1.85\\
1891.12 0.30\\ 1891.18 -0.40\\ 1891.24 1.15\\ 1891.30 -0.75\\ 1891.36 -0.10\\ 1891.42 -1.25\\ 1891.48 0.55\\ 1891.54 -0.50\\ 1891.60 0.05\\ 1891.66 -0.95\\
1891.72 0.75\\ 1891.78 -0.30\\ 1891.84 -1.10\\ 1891.90 0.35\\ 1891.96 -0.60\\ 1892.02 0.95\\ 1892.08 -0.20\\ 1892.14 -1.40\\ 1892.20 0.10\\ 1892.26 1.50\\
1892.32 -0.45\\ 1892.38 0.60\\ 1892.44 -0.85\\ 1892.50 -0.15\\ 1892.56 0.85\\ 1892.62 -1.20\\ 1892.68 0.25\\ 1892.74 -0.55\\ 1892.80 -1.75\\ 1892.86 0.45\\
1892.92 -0.25\\ 1892.98 0.90\\ 1893.04 -0.70\\ 1893.10 0.15\\ 1893.16 -1.05\\ 1893.22 0.55\\ 1893.28 -0.35\\ 1893.34 1.00\\ 1893.40 -0.60\\ 1893.46 -0.05\\
1893.52 0.70\\ 1893.58 -0.90\\ 1893.64 -0.20\\ 1893.70 0.40\\ 1893.76 -1.30\\ 1893.82 0.10\\ 1893.88 0.80\\ 1893.94 -0.50\\ 1894.00 -0.15\\ 1894.06 0.95\\
1894.12 -0.75\\ 1894.18 0.30\\ 1894.24 -1.34\\ 1894.30 -0.30\\ 1894.36 0.65\\ 1894.42 -0.05\\ 1894.48 1.21\\ 1894.54 -0.60\\ 1894.60 0.20\\ 1894.66 -0.95\\
1894.72 0.50\\ 1894.78 -0.25\\ 1894.84 0.85\\ 1894.90 -0.70\\ 1894.96 0.05\\ 1895.02 -1.10\\ 1895.08 0.60\\ 1895.14 -0.40\\ 1895.20 0.95\\ 1895.26 -0.15\\
1895.32 -0.85\\ 1895.38 0.35\\ 1895.44 -0.30\\ 1895.50 0.75\\ 1895.56 -1.20\\ 1895.62 0.15\\ 1895.68 -0.55\\ 1895.74 1.05\\ 1895.80 -0.10\\ 1895.86 0.45\\
1895.92 -0.65\\ 1895.98 0.90\\ 1896.04 -1.00\\ 1896.10 0.20\\ 1896.16 -0.35\\ 1896.22 0.70\\ 1896.28 -1.45\\ 1896.34 0.05\\ 1896.40 0.55\\ 1896.46 -0.80\\
1896.52 0.30\\ 1896.58 -0.20\\ 1896.64 1.00\\ 1896.70 -0.90\\ 1896.76 0.40\\ 1896.82 -0.45\\ 1896.88 0.80\\ 1896.94 -1.15\\ 1897.00 0.10\\ 1897.06 -0.30\\
1897.12 0.65\\ 1897.18 -0.75\\ 1897.24 0.25\\ 1897.30 -1.56\\ 1897.36 0.50\\ 1897.42 -0.40\\ 1897.48 0.85\\ 1897.54 -0.10\\ 1897.60 -0.95\\ 1897.66 0.35\\
1897.72 -0.50\\
}\tred

% Bkg (red dots), interleaved second set
\pgfplotstableread[row sep=\\]{
x y\\
1870.48 -4.35\\ 1870.54 -4.60\\ 1870.60 -3.75\\ 1870.66 -4.50\\ 1870.72 -4.05\\ 1870.78 -4.45\\ 1870.84 -3.50\\ 1870.90 -4.25\\ 1870.96 -3.85\\ 1871.02 -4.40\\
1871.08 -3.10\\ 1871.14 -3.55\\ 1871.20 -2.55\\ 1871.26 -2.95\\ 1871.32 -2.10\\ 1871.38 -2.45\\ 1871.44 -1.60\\ 1871.50 -2.00\\ 1871.56 -1.05\\ 1871.62 -0.35\\
1871.68 -0.95\\ 1871.74 0.65\\ 1871.80 -1.10\\ 1871.86 -0.25\\ 1871.92 0.40\\
1871.98 -0.55\\ 1872.04 0.25\\ 1872.10 -1.50\\ 1872.16 0.70\\ 1872.22 -0.20\\ 1872.28 -0.95\\ 1872.34 0.50\\ 1872.40 -0.65\\ 1872.46 1.05\\ 1872.52 -1.25\\
1872.58 0.10\\ 1872.64 -0.40\\ 1872.70 -2.00\\ 1872.76 0.60\\ 1872.82 -0.80\\ 1872.88 0.30\\ 1872.94 -1.35\\ 1873.00 -0.10\\ 1873.06 0.90\\ 1873.12 -0.60\\
1873.18 0.55\\ 1873.24 -1.00\\ 1873.30 -0.30\\ 1873.36 1.20\\ 1873.42 -0.75\\ 1873.48 0.15\\ 1873.54 -1.80\\ 1873.60 0.45\\ 1873.66 -0.50\\ 1873.72 0.85\\
1873.78 -1.25\\ 1873.84 0.20\\ 1873.90 -0.65\\ 1873.96 -1.55\\ 1874.02 0.65\\ 1874.08 -0.15\\ 1874.14 1.15\\ 1874.20 -0.95\\ 1874.26 0.35\\ 1874.32 -1.40\\
1874.38 -0.30\\ 1874.44 0.95\\ 1874.50 -0.60\\ 1874.56 0.15\\ 1874.62 -1.95\\ 1874.68 0.50\\ 1874.74 -0.20\\ 1874.80 -1.15\\ 1874.86 0.80\\ 1874.92 -0.45\\
1874.98 0.40\\ 1875.04 -1.35\\ 1875.10 -0.05\\ 1875.16 1.05\\ 1875.22 -0.85\\ 1875.28 -0.35\\ 1875.34 0.60\\ 1875.40 -1.65\\ 1875.46 0.20\\ 1875.52 -0.70\\
1875.58 0.95\\ 1875.64 -0.25\\ 1875.70 -1.20\\ 1875.76 0.35\\ 1875.82 -0.60\\ 1875.88 1.35\\ 1875.94 -0.95\\ 1876.00 0.10\\ 1876.06 -1.55\\ 1876.12 0.55\\
1876.18 -0.15\\ 1876.24 0.85\\ 1876.30 -0.75\\ 1876.36 0.25\\ 1876.42 -1.45\\ 1876.48 0.60\\ 1876.54 -0.35\\ 1876.60 1.10\\ 1876.66 -1.00\\ 1876.72 0.00\\
1876.78 -0.60\\ 1876.84 1.25\\ 1876.90 -1.30\\ 1876.96 0.40\\ 1877.02 -0.20\\ 1877.08 0.75\\ 1877.14 -0.85\\ 1877.20 -1.70\\ 1877.26 0.30\\ 1877.32 0.95\\
1877.38 -0.50\\ 1877.44 -1.10\\ 1877.50 0.20\\ 1877.56 -0.30\\ 1877.62 0.85\\ 1877.68 -1.40\\ 1877.74 0.50\\ 1877.80 -0.75\\ 1877.86 1.35\\ 1877.92 -0.15\\
1877.98 0.55\\ 1878.04 -0.95\\ 1878.10 -0.25\\ 1878.16 0.95\\ 1878.22 -1.60\\ 1878.28 0.05\\ 1878.34 -0.55\\ 1878.40 0.70\\ 1878.46 -1.15\\ 1878.52 -0.40\\
1878.58 1.00\\ 1878.64 -0.70\\ 1878.70 0.35\\ 1878.76 -1.30\\ 1878.82 -0.10\\ 1878.88 0.65\\ 1878.94 -0.90\\ 1879.00 1.45\\ 1879.06 -0.35\\ 1879.12 -1.50\\
1879.18 0.25\\ 1879.24 -0.55\\ 1879.30 1.10\\ 1879.36 -0.85\\ 1879.42 0.45\\ 1879.48 -1.25\\ 1879.54 -0.05\\ 1879.60 0.90\\ 1879.66 -0.70\\ 1879.72 0.30\\
1879.78 -1.60\\ 1879.84 0.55\\ 1879.90 -0.40\\ 1879.96 1.15\\ 1880.02 -0.95\\ 1880.08 0.10\\ 1880.14 -0.25\\ 1880.20 0.80\\ 1880.26 -1.35\\ 1880.32 -0.60\\
1880.38 0.95\\ 1880.44 -0.15\\ 1880.50 -1.05\\ 1880.56 0.40\\ 1880.62 -0.65\\ 1880.68 1.25\\ 1880.74 -1.90\\ 1880.80 0.20\\ 1880.86 -0.45\\ 1880.92 0.65\\
1880.98 -1.20\\ 1881.04 0.35\\ 1881.10 -0.30\\ 1881.16 0.90\\ 1881.22 -0.80\\ 1881.28 -1.50\\ 1881.34 0.55\\ 1881.40 1.40\\ 1881.46 -0.20\\ 1881.52 -0.90\\
1881.58 0.15\\ 1881.64 -0.45\\ 1881.70 0.85\\ 1881.76 -1.25\\ 1881.82 -0.05\\ 1881.88 0.60\\ 1881.94 -0.70\\ 1882.00 1.15\\ 1882.06 -1.65\\ 1882.12 0.30\\
1882.18 -0.35\\ 1882.24 1.00\\ 1882.30 -0.90\\ 1882.36 0.20\\ 1882.42 -1.45\\ 1882.48 0.50\\ 1882.54 -0.15\\ 1882.60 0.95\\ 1882.66 -0.60\\ 1882.72 -1.10\\
1882.78 0.40\\ 1882.84 -0.50\\ 1882.90 1.30\\ 1882.96 -1.00\\ 1883.02 0.10\\ 1883.08 -0.25\\ 1883.14 0.75\\ 1883.20 -1.35\\ 1883.26 0.55\\ 1883.32 -0.70\\
1883.38 0.85\\ 1883.44 -0.15\\ 1883.50 -1.05\\ 1883.56 0.30\\ 1883.62 -0.40\\ 1883.68 0.65\\ 1883.74 -0.85\\ 1883.80 0.20\\ 1883.86 -0.30\\ 1883.92 0.50\\
1883.98 -0.80\\
1885.15 -1.65\\ 1885.21 -2.35\\ 1885.27 -3.05\\ 1885.33 -4.00\\ 1885.39 -3.40\\ 1885.45 -4.45\\ 1885.51 -4.20\\ 1885.57 -4.50\\ 1885.63 -3.90\\ 1885.69 -4.30\\
1885.75 -4.55\\ 1885.81 -3.70\\ 1885.87 -4.05\\ 1885.93 -3.35\\ 1885.99 -3.90\\ 1886.05 -2.60\\ 1886.11 -3.20\\ 1886.17 -2.25\\ 1886.23 -3.75\\ 1886.29 -1.50\\
1886.35 -2.70\\ 1886.41 -1.85\\ 1886.47 -0.95\\ 1886.53 -2.95\\ 1886.59 -1.60\\ 1886.65 -2.35\\ 1886.71 -0.80\\ 1886.77 -1.75\\ 1886.83 -3.45\\ 1886.89 -1.20\\
1886.95 -2.05\\ 1887.01 -0.95\\ 1887.07 -2.50\\ 1887.13 -1.45\\ 1887.19 -0.70\\ 1887.25 -1.95\\ 1887.31 -1.10\\ 1887.37 -2.25\\ 1887.43 -0.60\\ 1887.49 -1.35\\
1887.55 -0.80\\ 1887.61 -1.70\\ 1887.67 -0.30\\ 1887.73 -1.20\\ 1887.79 -2.20\\ 1887.85 -0.65\\ 1887.91 -1.45\\ 1887.97 -0.95\\ 1888.03 -0.20\\ 1888.09 -1.30\\
1888.15 -0.70\\ 1888.21 -1.55\\ 1888.27 0.10\\ 1888.33 -1.00\\ 1888.39 -0.45\\ 1888.45 -1.80\\ 1888.51 -0.15\\ 1888.57 -0.90\\ 1888.63 -1.25\\ 1888.69 0.30\\
1888.75 -0.55\\ 1888.81 -1.40\\ 1888.87 -0.05\\ 1888.93 -0.85\\ 1888.99 -2.15\\ 1889.05 -0.35\\ 1889.11 0.45\\ 1889.17 -1.10\\ 1889.23 -0.65\\ 1889.29 -0.20\\
1889.35 -1.30\\ 1889.41 0.25\\ 1889.47 -0.75\\ 1889.53 -1.65\\ 1889.59 0.60\\ 1889.65 -0.40\\ 1889.71 -0.95\\ 1889.77 0.15\\ 1889.83 -1.20\\ 1889.89 -0.50\\
1889.95 0.40\\ 1890.01 -0.85\\ 1890.07 -1.70\\ 1890.13 0.20\\ 1890.19 -0.35\\ 1890.25 0.85\\ 1890.31 -1.00\\ 1890.37 -0.15\\ 1890.43 -1.45\\ 1890.49 0.50\\
1890.55 -0.60\\ 1890.61 0.05\\ 1890.67 -1.25\\ 1890.73 0.70\\ 1890.79 -0.30\\ 1890.85 -0.85\\ 1890.91 0.35\\ 1890.97 -1.50\\ 1891.03 0.95\\ 1891.09 -0.40\\
1891.15 -1.05\\ 1891.21 0.60\\ 1891.27 -0.20\\ 1891.33 -1.86\\ 1891.39 0.25\\ 1891.45 -0.65\\ 1891.51 0.90\\ 1891.57 -0.35\\ 1891.63 -1.20\\ 1891.69 0.45\\
1891.75 -0.15\\ 1891.81 -0.85\\ 1891.87 1.00\\ 1891.93 -0.50\\ 1891.99 0.30\\ 1892.05 -1.30\\ 1892.11 0.55\\ 1892.17 -0.05\\ 1892.23 -0.90\\ 1892.29 0.75\\
1892.35 0.20\\ 1892.41 -1.10\\ 1892.47 0.95\\ 1892.53 -0.40\\ 1892.59 0.50\\ 1892.65 -0.70\\ 1892.71 1.20\\ 1892.77 -0.25\\ 1892.83 0.05\\ 1892.89 -1.00\\
1892.95 0.60\\ 1893.01 -0.55\\ 1893.07 0.30\\ 1893.13 -1.35\\ 1893.19 0.80\\ 1893.25 -0.15\\ 1893.31 -0.80\\ 1893.37 0.45\\ 1893.43 1.15\\ 1893.49 -0.45\\
1893.55 -1.10\\ 1893.61 0.25\\ 1893.67 0.90\\ 1893.73 -0.65\\ 1893.79 0.05\\ 1893.85 -0.35\\ 1893.91 1.05\\ 1893.97 -0.95\\ 1894.03 0.50\\ 1894.09 -0.20\\
1894.15 0.70\\ 1894.21 -1.20\\ 1894.27 0.35\\ 1894.33 -0.50\\ 1894.39 1.00\\ 1894.45 -0.80\\ 1894.51 0.15\\ 1894.57 -0.30\\ 1894.63 0.85\\ 1894.69 -1.45\\
1894.75 -0.10\\ 1894.81 0.65\\ 1894.87 -0.55\\ 1894.93 1.10\\ 1894.99 -0.90\\ 1895.05 0.40\\ 1895.11 -0.20\\ 1895.17 0.75\\ 1895.23 -1.25\\ 1895.29 0.10\\
1895.35 0.55\\ 1895.41 -0.45\\ 1895.47 0.95\\ 1895.53 -0.75\\ 1895.59 0.25\\ 1895.65 -1.05\\ 1895.71 0.80\\ 1895.77 -0.35\\ 1895.83 0.30\\ 1895.89 -0.90\\
1895.95 0.45\\ 1896.01 -0.25\\ 1896.07 1.15\\ 1896.13 -0.60\\ 1896.19 0.10\\ 1896.25 -1.30\\ 1896.31 0.65\\ 1896.37 -0.50\\ 1896.43 0.85\\ 1896.49 -0.15\\
1896.55 -1.00\\ 1896.61 0.50\\ 1896.67 -0.40\\ 1896.73 0.20\\ 1896.79 -1.20\\ 1896.85 0.75\\ 1896.91 -0.10\\ 1896.97 0.95\\ 1897.03 -0.70\\ 1897.09 0.35\\
1897.15 -0.20\\ 1897.21 0.60\\ 1897.27 -1.05\\ 1897.33 0.90\\ 1897.39 -0.45\\ 1897.45 0.15\\ 1897.51 -0.80\\ 1897.57 0.55\\ 1897.63 -0.25\\ 1897.69 0.45\\
}\tredb

% bkg_model (purple line)
\pgfplotstableread[row sep=\\]{
x y\\
1870.44 -0.35\\ 1870.60 -0.25\\ 1870.75 -0.05\\ 1870.89 0.10\\ 1871.00 -0.20\\ 1871.09 -0.37\\ 1871.25 -0.19\\ 1871.60 -0.22\\ 1872.00 -0.18\\ 1872.50 -0.20\\
1873.00 -0.15\\ 1873.50 -0.10\\ 1873.68 0.24\\ 1873.80 -0.05\\ 1874.30 -0.13\\ 1874.70 -0.20\\ 1875.00 -0.41\\ 1875.30 -0.15\\ 1875.70 0.10\\ 1876.10 0.00\\
1876.60 -0.07\\ 1877.10 0.02\\ 1877.70 0.06\\ 1878.20 0.10\\ 1878.70 0.20\\ 1879.10 0.08\\ 1879.50 0.00\\ 1879.64 0.10\\ 1880.10 0.18\\ 1880.65 0.33\\
1881.10 0.22\\ 1881.65 0.15\\ 1882.20 0.05\\ 1882.67 0.00\\ 1883.00 0.08\\ 1883.27 0.20\\ 1883.50 0.05\\ 1883.68 -0.13\\ 1884.00 -0.08\\ 1885.09 -0.10\\
1885.40 -0.26\\ 1885.80 -0.12\\ 1886.30 -0.04\\ 1886.80 -0.20\\ 1887.30 -0.35\\ 1887.80 -0.28\\ 1888.30 -0.32\\ 1888.70 -0.15\\ 1889.20 0.00\\ 1889.70 0.12\\
1890.20 0.18\\ 1890.70 0.28\\ 1891.25 0.40\\ 1891.70 0.50\\ 1892.06 0.58\\ 1892.50 0.55\\ 1892.87 0.65\\ 1893.30 0.60\\ 1893.80 0.62\\ 1894.20 0.65\\
1894.48 0.65\\ 1894.80 0.55\\ 1895.10 0.33\\ 1895.50 0.30\\ 1895.90 0.35\\ 1896.30 0.43\\ 1896.70 0.40\\ 1897.10 0.52\\ 1897.40 0.50\\ 1897.60 0.61\\
}\tmodel

\pgfplotsset{
  panel/.style={
    scale only axis, width=356.4pt, height=88.56pt, anchor=south west,
    xmin=1869.03, xmax=1899.03,
    axis line style={line width=0.8pt, black},
    tick align=outside, tick pos=left,
    major tick length=3.5pt,
    major tick style={line width=0.8pt, black},
    tick label style={font=\fontsize{10}{12}\selectfont, inner sep=0pt},
    yticklabel style={anchor=east, xshift=-7pt},
    xticklabel style={anchor=north, yshift=-7pt},
  },
  overlay panel/.style={
    scale only axis, width=356.4pt, height=88.56pt, anchor=south west,
    xmin=1869.03, xmax=1899.03,
    axis lines=none, xtick=\empty, ytick=\empty,
  },
  blackpts/.style={
    only marks, mark=errdot, mark size=2.1pt, black,
    mark options={fill=black, draw=black},
  },
  redpts/.style={
    only marks, mark=*, mark size=2.3pt, red,
    mark options={fill=red, draw=red, line width=0.2pt},
  },
}

\begin{document}
\begin{tikzpicture}
\path[use as bounding box] (0,0) rectangle (460.8pt,345.6pt);

% top panel
\begin{axis}[panel, at={(57.6pt,215.28pt)},
  y dir=reverse, ymin=13.8026, ymax=13.8399,
  ytick={13.81,13.82,13.83}, yticklabels={13.81,13.82,13.83},
  xtick=\empty]
\addplot[blackpts] table[x=x,y=y] {\tblack};
\addplot[blackpts] table[x=x,y=y] {\tblackb};
\end{axis}
% red dashed marker line drawn over the points
\begin{axis}[overlay panel, at={(57.6pt,215.28pt)},
  y dir=reverse, ymin=13.8026, ymax=13.8399]
\addplot[red, line width=1.5pt, dash pattern=on 5.55pt off 2.4pt] coordinates {(1893.0,13.795) (1893.0,13.845)};
\end{axis}

% middle panel
\begin{axis}[panel, at={(57.6pt,126.72pt)},
  ymin=-4.91, ymax=2.0,
  ytick={-4,-2,0,2}, yticklabels={−4,−2,0,2},
  xtick=\empty]
\addplot[redpts] table[x=x,y=y] {\tred};
\addplot[redpts] table[x=x,y=y] {\tredb};
\end{axis}
% purple model line drawn over the red dots
\begin{axis}[overlay panel, at={(57.6pt,126.72pt)},
  ymin=-4.91, ymax=2.0]
\addplot[mplmag, line width=1.8pt, line join=round] table[x=x,y=y] {\tmodel};
\end{axis}

% bottom panel
\begin{axis}[panel, at={(57.6pt,38.16pt)},
  y dir=reverse, ymin=13.8041, ymax=13.8401,
  ytick={13.81,13.82,13.83}, yticklabels={13.81,13.82,13.83},
  xtick={1870,1875,1880,1885,1890,1895},
  xticklabels={1870,1875,1880,1885,1890,1895}]
\addplot[blackpts] table[x=x,y=y] {\tblack};
\addplot[blackpts] table[x=x,y=y] {\tblackb};
\end{axis}

% titles and labels
\node[anchor=base, inner sep=0pt, font=\fontsize{12}{14}\selectfont] at (235.8pt,326.2pt) {AT2020cms\ \ ZTF18abeyyix};
\node[anchor=base, inner sep=0pt, font=\fontsize{12}{14}\selectfont] at (235.8pt,309.6pt) {19.48g\_ZTF Unclassified z= -99.0};
\node[anchor=base west, inner sep=0pt, font=\fontsize{12}{14}\selectfont] at (75.8pt,294.7pt) {s21 cam4ccd2};

\node[rotate=90, anchor=base, inner sep=0pt, font=\fontsize{10}{12}\selectfont] at (15.5pt,259.56pt) {T mag};
\node[rotate=90, anchor=base, inner sep=0pt, font=\fontsize{10}{12}\selectfont] at (17.3pt,171pt) {Bkg (red)/};
\node[rotate=90, anchor=base, inner sep=0pt, font=\fontsize{10}{12}\selectfont] at (28.1pt,171pt) {bkg\_model (purple)};
\node[rotate=90, anchor=base, inner sep=0pt, font=\fontsize{10}{12}\selectfont] at (4.3pt,82.44pt) {T mag -};
\node[rotate=90, anchor=base, inner sep=0pt, font=\fontsize{10}{12}\selectfont] at (15.5pt,82.44pt) {bkg\_model};

\node[anchor=base, inner sep=0pt, font=\fontsize{10}{12}\selectfont] at (235.8pt,8.4pt) {BTJD −2\,457\,000};
\end{tikzpicture}
\end{document}
